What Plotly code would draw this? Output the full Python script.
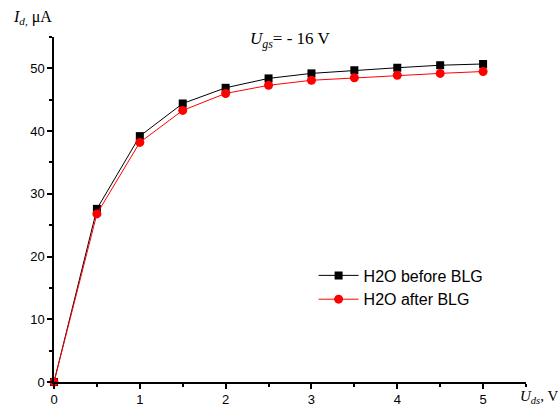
import plotly.graph_objects as go

# Drain voltage U_ds (V)
u_ds = [0, 0.5, 1.0, 1.5, 2.0, 2.5, 3.0, 3.5, 4.0, 4.5, 5.0]
# Drain current I_d (uA) at U_gs = -16 V
id_before = [0, 27.6, 39.2, 44.4, 46.9, 48.4, 49.2, 49.7, 50.1, 50.5, 50.7]
id_after = [0, 26.8, 38.2, 43.3, 46.0, 47.3, 48.1, 48.5, 48.9, 49.2, 49.5]

x_ticks = [0, 1, 2, 3, 4, 5]
y_ticks = [0, 10, 20, 30, 40, 50]

fig = go.Figure()
fig.add_trace(go.Scatter(
    x=u_ds, y=id_before, mode="lines+markers", name="H2O before BLG",
    line=dict(color="black", width=1),
    marker=dict(symbol="square", size=8, color="black"),
    cliponaxis=False,
))
fig.add_trace(go.Scatter(
    x=u_ds, y=id_after, mode="lines+markers", name="H2O after BLG",
    line=dict(color="red", width=1),
    marker=dict(symbol="circle", size=9, color="red"),
    cliponaxis=False,
))

axis_common = dict(
    showgrid=False, zeroline=False, showline=True, linecolor="black",
    linewidth=1.5, ticks="outside", ticklen=5, tickwidth=1.5, tickcolor="black",
    tickfont=dict(family="Liberation Sans, Arial", size=13, color="black"),
    automargin=False,
)

fig.update_xaxes(
    range=[0, 5.5], tickvals=x_ticks,
    minor=dict(ticks="outside", ticklen=3, tickwidth=1.5, tickcolor="black", dtick=0.5),
    **axis_common,
)
fig.update_yaxes(
    range=[0, 55], tickvals=y_ticks,
    minor=dict(ticks="outside", ticklen=3, tickwidth=1.5, tickcolor="black", dtick=5),
    **axis_common,
)

serif = "Liberation Serif, Times New Roman, serif"
fig.add_annotation(
    x=0, y=1.0, xref="paper", yref="paper", xanchor="right", yanchor="bottom",
    xshift=0, yshift=8,
    text="<i>I<sub>d,</sub></i> μA", showarrow=False,
    font=dict(family=serif, size=16, color="black"),
)
fig.add_annotation(
    x=0.5, y=1.0, xref="paper", yref="paper", xanchor="center", yanchor="bottom",
    yshift=-16,
    text="<i>U<sub>gs</sub></i>= - 16 V", showarrow=False,
    font=dict(family=serif, size=17, color="black"),
)
fig.add_annotation(
    x=1.0, y=0, xref="paper", yref="paper", xanchor="left", yanchor="top",
    xshift=-8, yshift=-4,
    text="<i>U<sub>ds</sub></i>, V", showarrow=False,
    font=dict(family=serif, size=15, color="black"),
)

fig.update_layout(
    width=558, height=407,
    margin=dict(l=54, r=32, t=37, b=25, autoexpand=False),
    paper_bgcolor="white", plot_bgcolor="white",
    showlegend=True,
    legend=dict(
        x=0.55, y=0.358, xanchor="left", yanchor="top",
        bgcolor="rgba(0,0,0,0)",
        font=dict(family="Liberation Sans, Arial", size=16, color="black"),
        tracegroupgap=0, itemwidth=40,
    ),
)

fig.write_html("out.html")
